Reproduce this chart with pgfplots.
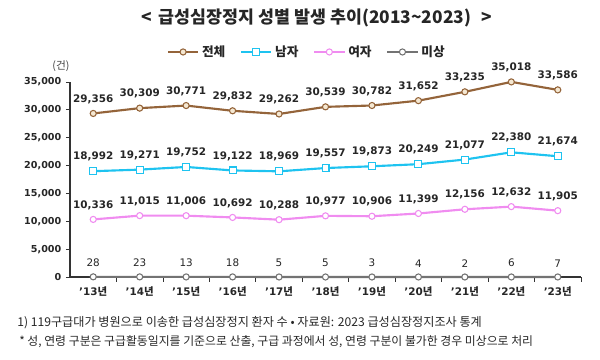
\documentclass[border=0pt]{standalone}
\usepackage{pgfplots}
\pgfplotsset{compat=1.18}
\usepackage{fontspec}
\setmainfont{DejaVu Sans}
\newfontfamily\kr{Noto Sans CJK KR}
\definecolor{cTot}{RGB}{148,100,58}
\definecolor{cTotFill}{RGB}{245,232,210}
\definecolor{cMale}{RGB}{30,195,240}
\definecolor{cFem}{RGB}{240,140,240}
\definecolor{cUnk}{RGB}{115,115,115}
\newcommand{\yr}[1]{{\bfseries ’#1\kr 년}}
\begin{document}
\begin{tikzpicture}
\useasboundingbox (0,0) rectangle (450pt,270pt);
\node[font=\kr\bfseries\fontsize{13}{15}\selectfont, text=black!85] at (237.75pt,256.5pt) {<\hspace{5pt}급성심장정지 성별 발생 추이(2013\textasciitilde 2023)\hspace{8pt}>};
\node[font=\kr\fontsize{8}{9}\selectfont, text=black!75] at (45.75pt,220.5pt) {(건)};
\node[anchor=west, font=\kr\fontsize{9.1}{10}\selectfont, text=black!85, inner sep=0pt] at (12.75pt,27.75pt) {1) 119구급대가 병원으로 이송한 급성심장정지 환자 수 • 자료원: 2023 급성심장정지조사 통계};
\node[anchor=west, font=\kr\fontsize{8.9}{10}\selectfont, text=black!85, inner sep=0pt] at (14.25pt,13.5pt) {* 성, 연령 구분은 구급활동일지를 기준으로 산출, 구급 과정에서 성, 연령 구분이 불가한 경우 미상으로 처리};
\begin{axis}[
  at={(52.5pt,62.25pt)}, anchor=south west,
  scale only axis, width=383.25pt, height=146.25pt,
  xmin=-0.5, xmax=10.5, ymin=0, ymax=35000,
  axis x line*=bottom, axis y line*=left,
  axis line style={black!80, line width=0.8pt},
  xtick={0,...,10},
  xticklabels={\yr{13},\yr{14},\yr{15},\yr{16},\yr{17},\yr{18},\yr{19},\yr{20},\yr{21},\yr{22},\yr{23}},
  major x tick style={draw=none},
  minor xtick={0.5,1.5,...,10.5},
  ytick={0,5000,...,35000},
  tick align=outside, major tick length=3pt, minor tick length=3.5pt,
  tick style={black!80, line width=0.6pt},
  scaled y ticks=false,
  /pgf/number format/1000 sep={,},
  /pgf/number format/assume math mode=true,
  yticklabel style={font=\bfseries\fontsize{7.2}{8}\selectfont, text=black!85},
  xticklabel style={font=\fontsize{7.8}{9}\selectfont, text=black!85, yshift=-1pt},
  clip=false,
  legend columns=4,
  legend style={draw=none, fill=none, at={(0.464,1.154)}, anchor=center,
    font=\kr\bfseries\fontsize{9.5}{11}\selectfont, text=black!85,
    /tikz/every even column/.append style={column sep=9pt}},
  legend image code/.code={\draw[mark repeat=2,mark phase=2] plot coordinates {(0cm,0cm) (0.4cm,0cm) (0.8cm,0cm)};},
  every node near coord/.append style={text=black!85, anchor=south, inner sep=0pt},
]
\addplot[cTot, line width=1.6pt, mark=*, mark size=2.3pt, mark options={fill=cTotFill, draw=cTot, line width=0.8pt},
  nodes near coords, every node near coord/.append style={font=\bfseries\fontsize{7.8}{9}\selectfont, yshift=7pt}]
  coordinates {(0,29356) (1,30309) (2,30771) (3,29832) (4,29262) (5,30539) (6,30782) (7,31652) (8,33235) (9,35018) (10,33586)};
\addplot[cMale, line width=1.6pt, mark=square*, mark size=2.6pt, mark options={fill=white, draw=cMale, line width=0.8pt},
  nodes near coords, every node near coord/.append style={font=\bfseries\fontsize{7.8}{9}\selectfont, yshift=7pt}]
  coordinates {(0,18992) (1,19271) (2,19752) (3,19122) (4,18969) (5,19557) (6,19873) (7,20249) (8,21077) (9,22380) (10,21674)};
\addplot[cFem, line width=1.6pt, mark=*, mark size=2.3pt, mark options={fill=white, draw=cFem, line width=0.8pt},
  nodes near coords, every node near coord/.append style={font=\bfseries\fontsize{7.8}{9}\selectfont, yshift=7pt}]
  coordinates {(0,10336) (1,11015) (2,11006) (3,10692) (4,10288) (5,10977) (6,10906) (7,11399) (8,12156) (9,12632) (10,11905)};
\addplot[cUnk, line width=1.6pt, mark=*, mark size=2.3pt, mark options={fill=white, draw=cUnk, line width=0.8pt},
  nodes near coords, every node near coord/.append style={font=\fontsize{7.8}{9}\selectfont, yshift=7pt}]
  coordinates {(0,28) (1,23) (2,13) (3,18) (4,5) (5,5) (6,3) (7,4) (8,2) (9,6) (10,7)};
\legend{전체,남자,여자,미상}
\end{axis}
\end{tikzpicture}
\end{document}
